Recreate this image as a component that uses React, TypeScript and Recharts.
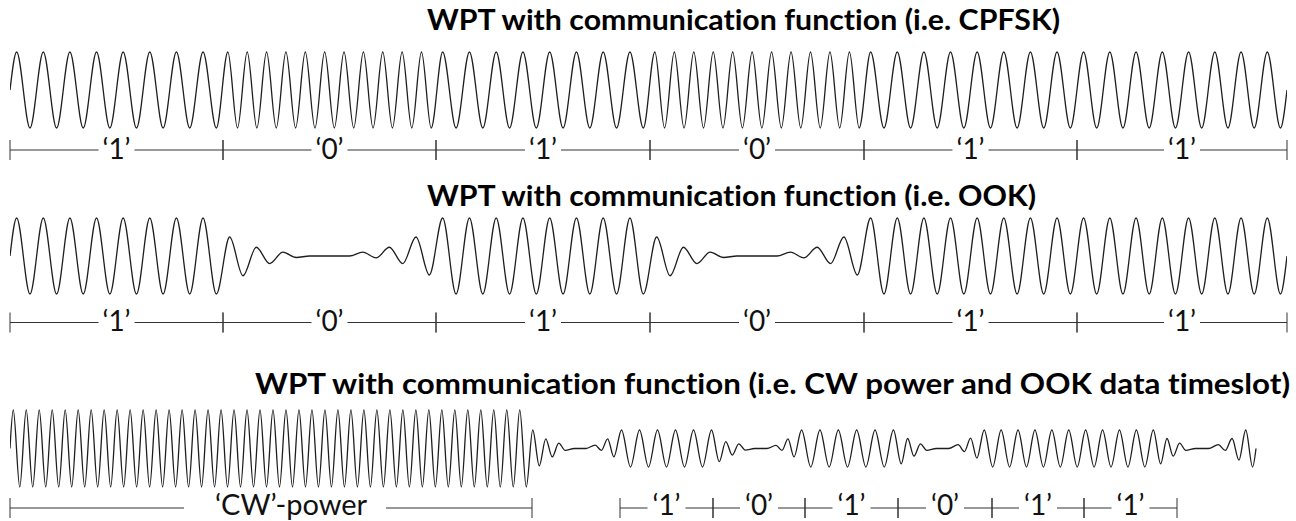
import React from "react";
import { LineChart, Line, XAxis, YAxis, ReferenceLine, ReferenceDot } from "recharts";

const WIDTH = 1296;
const PLOT_LEFT = 10;
const PLOT_RIGHT = 1287;
const T_END = 1277; // time axis (a.u.), full width of every panel

// ---- CPFSK panel ----
const cpfskBits = ["1", "0", "1", "0", "1", "1"];
const cpfskEdges = [0, 213, 426, 640, 854, 1067, 1277];
const cpfskCycles: Record<string, number> = { "1": 8, "0": 11 };

// ---- OOK panel ----
const ookBits = ["1", "0", "1", "0", "1", "1"];
const ookEdges = [0, 213, 426, 640, 854, 1067, 1277];
const ookOnCycles = 8;
// peaks / troughs of one '0' bit (decay, silence, regrowth)
const ookOffShape = [0.5, -0.52, 0.23, -0.2, 0.1, -0.04, 0, 0, 0, 0, 0.1, -0.05, 0.23, -0.2, 0.5, -0.5];

// ---- CW power + OOK data timeslot panel ----
const cwTone = { from: 0, to: 519.5, cycles: 40, amp: 1 };
const slotSegments: Seg[] = [
  { kind: "shape", from: 519.5, to: 558.5, values: [0.48, -0.45, 0.25, -0.22, 0.14, -0.05] },
  { kind: "shape", from: 558.5, to: 582, values: [0, 0] },
  { kind: "shape", from: 582, to: 607, values: [0.09, -0.05, 0.25, -0.22] },
  { kind: "tone", from: 607, to: 706, cycles: 5.5, amp: 0.48 },
  { kind: "shape", from: 706, to: 738.5, values: [-0.34, 0.18, -0.17, 0.12, -0.04] },
  { kind: "shape", from: 738.5, to: 763, values: [0, 0] },
  { kind: "shape", from: 763, to: 787, values: [0.08, -0.05, 0.25, -0.22] },
  { kind: "tone", from: 787, to: 888, cycles: 5.5, amp: 0.48 },
  { kind: "shape", from: 888, to: 920, values: [-0.4, 0.26, -0.2, 0.12, -0.05] },
  { kind: "shape", from: 920, to: 945, values: [0, 0] },
  { kind: "shape", from: 945, to: 970, values: [0.1, -0.08, 0.27, -0.25] },
  { kind: "tone", from: 970, to: 1147.5, cycles: 10.5, amp: 0.48 },
  { kind: "shape", from: 1147.5, to: 1179, values: [-0.4, 0.26, -0.2, 0.14, -0.05] },
  { kind: "shape", from: 1179, to: 1205, values: [0, 0] },
  { kind: "shape", from: 1205, to: 1246, values: [0.1, -0.05, 0.26, -0.3, 0.48, -0.48] },
];
const slotEnd = 1246;
const slotBits = ["1", "0", "1", "0", "1", "1"];
const slotEdges = [610, 703, 795, 888, 982, 1074, 1167];
const cwRulerSpan = [0, 522];
const cwLabel = "\u2018CW\u2019-power";

type Seg =
  | { kind: "tone"; from: number; to: number; cycles: number; amp: number }
  | { kind: "shape"; from: number; to: number; values: number[] };

type Pt = { t: number; v: number };
type Ruler = {
  from: number;
  to: number;
  label: string;
  at: number;
  gapFrom: number;
  gapTo: number;
  size: number;
};

// expand segments into the peak/trough points of the carrier
function buildWave(segs: Seg[], end: number): Pt[] {
  const pts: Pt[] = [{ t: segs[0].from, v: 0 }];
  let sign = 1;
  for (const s of segs) {
    let vals: number[];
    if (s.kind === "tone") {
      const n = Math.round(s.cycles * 2);
      vals = [];
      for (let i = 0; i < n; i++) vals.push((i % 2 === 0 ? sign : -sign) * s.amp);
    } else {
      vals = s.values;
    }
    const step = (s.to - s.from) / vals.length;
    vals.forEach((v, i) => pts.push({ t: s.from + (i + 0.5) * step, v }));
    const last = vals[vals.length - 1];
    if (last !== 0) sign = last > 0 ? -1 : 1;
  }
  pts.push({ t: end, v: 0 });
  return pts;
}

const q = (b: string) => `\u2018${b}\u2019`;

function bitRulers(bits: string[], edges: number[], gap: number): Ruler[] {
  return bits.map((b, i) => {
    const mid = (edges[i] + edges[i + 1]) / 2;
    return {
      from: edges[i],
      to: edges[i + 1],
      label: q(b),
      at: mid,
      gapFrom: mid - gap / 2,
      gapTo: mid + gap / 2,
      size: 28,
    };
  });
}

const cpfskWave = buildWave(
  cpfskBits.map((b, i) => ({ kind: "tone", from: cpfskEdges[i], to: cpfskEdges[i + 1], cycles: cpfskCycles[b], amp: 1 }) as Seg),
  T_END
);

const ookWave = buildWave(
  ookBits.map((b, i) =>
    (b === "1"
      ? { kind: "tone", from: ookEdges[i], to: ookEdges[i + 1], cycles: ookOnCycles, amp: 1 }
      : { kind: "shape", from: ookEdges[i], to: ookEdges[i + 1], values: ookOffShape }) as Seg
  ),
  T_END
);

const slotWave = buildWave([{ kind: "tone", ...cwTone }, ...slotSegments], slotEnd);

const FONT = "Lato, 'Open Sans', sans-serif";
const INK = "#1e1e1e";
const RULE = "#333";

interface PanelProps {
  height: number;
  waveTop: number;
  waveBottom: number;
  rulerY: number;
  labelDy: number;
  title: string;
  titleX: number;
  titleWidth: number;
  titleY: number;
  data: Pt[];
  rulers: Ruler[];
}

function Panel({ height, waveTop, waveBottom, rulerY, labelDy, title, titleX, titleWidth, titleY, data, rulers }: PanelProps) {
  const k = (waveBottom - waveTop) / 2;
  const c = (waveTop + waveBottom) / 2;
  const val = (py: number) => (c - py) / k;
  const pxPerT = (PLOT_RIGHT - PLOT_LEFT) / T_END;
  const rv = val(rulerY);
  const tick = 10 / k;

  return (
    <LineChart
      width={WIDTH}
      height={height}
      data={data}
      margin={{ top: 0, right: WIDTH - PLOT_RIGHT, bottom: 0, left: PLOT_LEFT }}
    >
      <XAxis dataKey="t" type="number" domain={[0, T_END]} hide allowDataOverflow />
      <YAxis type="number" domain={[val(height), val(0)]} hide allowDataOverflow />
      <ReferenceDot
        x={(titleX - PLOT_LEFT) / pxPerT}
        y={val(titleY)}
        r={0}
        shape={(p: any) => (
          <text
            x={p.cx}
            y={p.cy}
            textLength={titleWidth}
            lengthAdjust="spacingAndGlyphs"
            fontFamily={FONT}
            fontWeight={700}
            fontSize={28}
            fill="#000"
            style={{ fontVariantLigatures: "none" }}
          >
            {title}
          </text>
        )}
      />
      {rulers.flatMap((r, i) => [
        <ReferenceLine
          key={`l${i}`}
          segment={[{ x: r.from, y: rv }, { x: r.gapFrom, y: rv }]}
          stroke={RULE}
          strokeWidth={1}
        />,
        <ReferenceLine
          key={`r${i}`}
          segment={[{ x: r.gapTo, y: rv }, { x: r.to, y: rv }]}
          stroke={RULE}
          strokeWidth={1}
        />,
        <ReferenceLine
          key={`a${i}`}
          segment={[{ x: r.from, y: rv - tick }, { x: r.from, y: rv + tick }]}
          stroke={RULE}
          strokeWidth={1}
        />,
        <ReferenceLine
          key={`b${i}`}
          segment={[{ x: r.to, y: rv - tick }, { x: r.to, y: rv + tick }]}
          stroke={RULE}
          strokeWidth={1}
        />,
        <ReferenceDot
          key={`t${i}`}
          x={r.at}
          y={rv}
          r={0}
          shape={(p: any) => (
            <text
              x={p.cx}
              y={p.cy + labelDy}
              textAnchor="middle"
              fontFamily={FONT}
              fontSize={r.size}
              fill="#111"
              style={{ fontVariantLigatures: "none" }}
            >
              {r.label}
            </text>
          )}
        />,
      ])}
      <Line
        type="monotone"
        dataKey="v"
        stroke={INK}
        strokeWidth={1.3}
        dot={false}
        isAnimationActive={false}
      />
    </LineChart>
  );
}

export default function App() {
  const slotRulers: Ruler[] = [
    { from: cwRulerSpan[0], to: cwRulerSpan[1], label: cwLabel, at: 281, gapFrom: 174, gapTo: 376, size: 29 },
    ...bitRulers(slotBits, slotEdges, 38),
  ];
  return (
    <div style={{ position: "relative", width: WIDTH, height: 521, background: "#fff", overflow: "hidden" }}>
      <style>{"body{margin:0}"}</style>
      <div style={{ position: "absolute", left: 0, top: 0 }}>
        <Panel
          height={175}
          waveTop={52}
          waveBottom={128}
          rulerY={150}
          labelDy={8.5}
          title="WPT with communication function (i.e. CPFSK)"
          titleX={427}
          titleWidth={633}
          titleY={30}
          data={cpfskWave}
          rulers={bitRulers(cpfskBits, cpfskEdges, 36)}
        />
      </div>
      <div style={{ position: "absolute", left: 0, top: 175 }}>
        <Panel
          height={175}
          waveTop={43}
          waveBottom={119}
          rulerY={147.5}
          labelDy={8.5}
          title="WPT with communication function (i.e. OOK)"
          titleX={427}
          titleWidth={609}
          titleY={31}
          data={ookWave}
          rulers={bitRulers(ookBits, ookEdges, 36)}
        />
      </div>
      <div style={{ position: "absolute", left: 0, top: 350 }}>
        <Panel
          height={171}
          waveTop={60}
          waveBottom={137}
          rulerY={158}
          labelDy={6.5}
          title="WPT with communication function (i.e. CW power and OOK data timeslot)"
          titleX={255}
          titleWidth={1035}
          titleY={44}
          data={slotWave}
          rulers={slotRulers}
        />
      </div>
    </div>
  );
}
